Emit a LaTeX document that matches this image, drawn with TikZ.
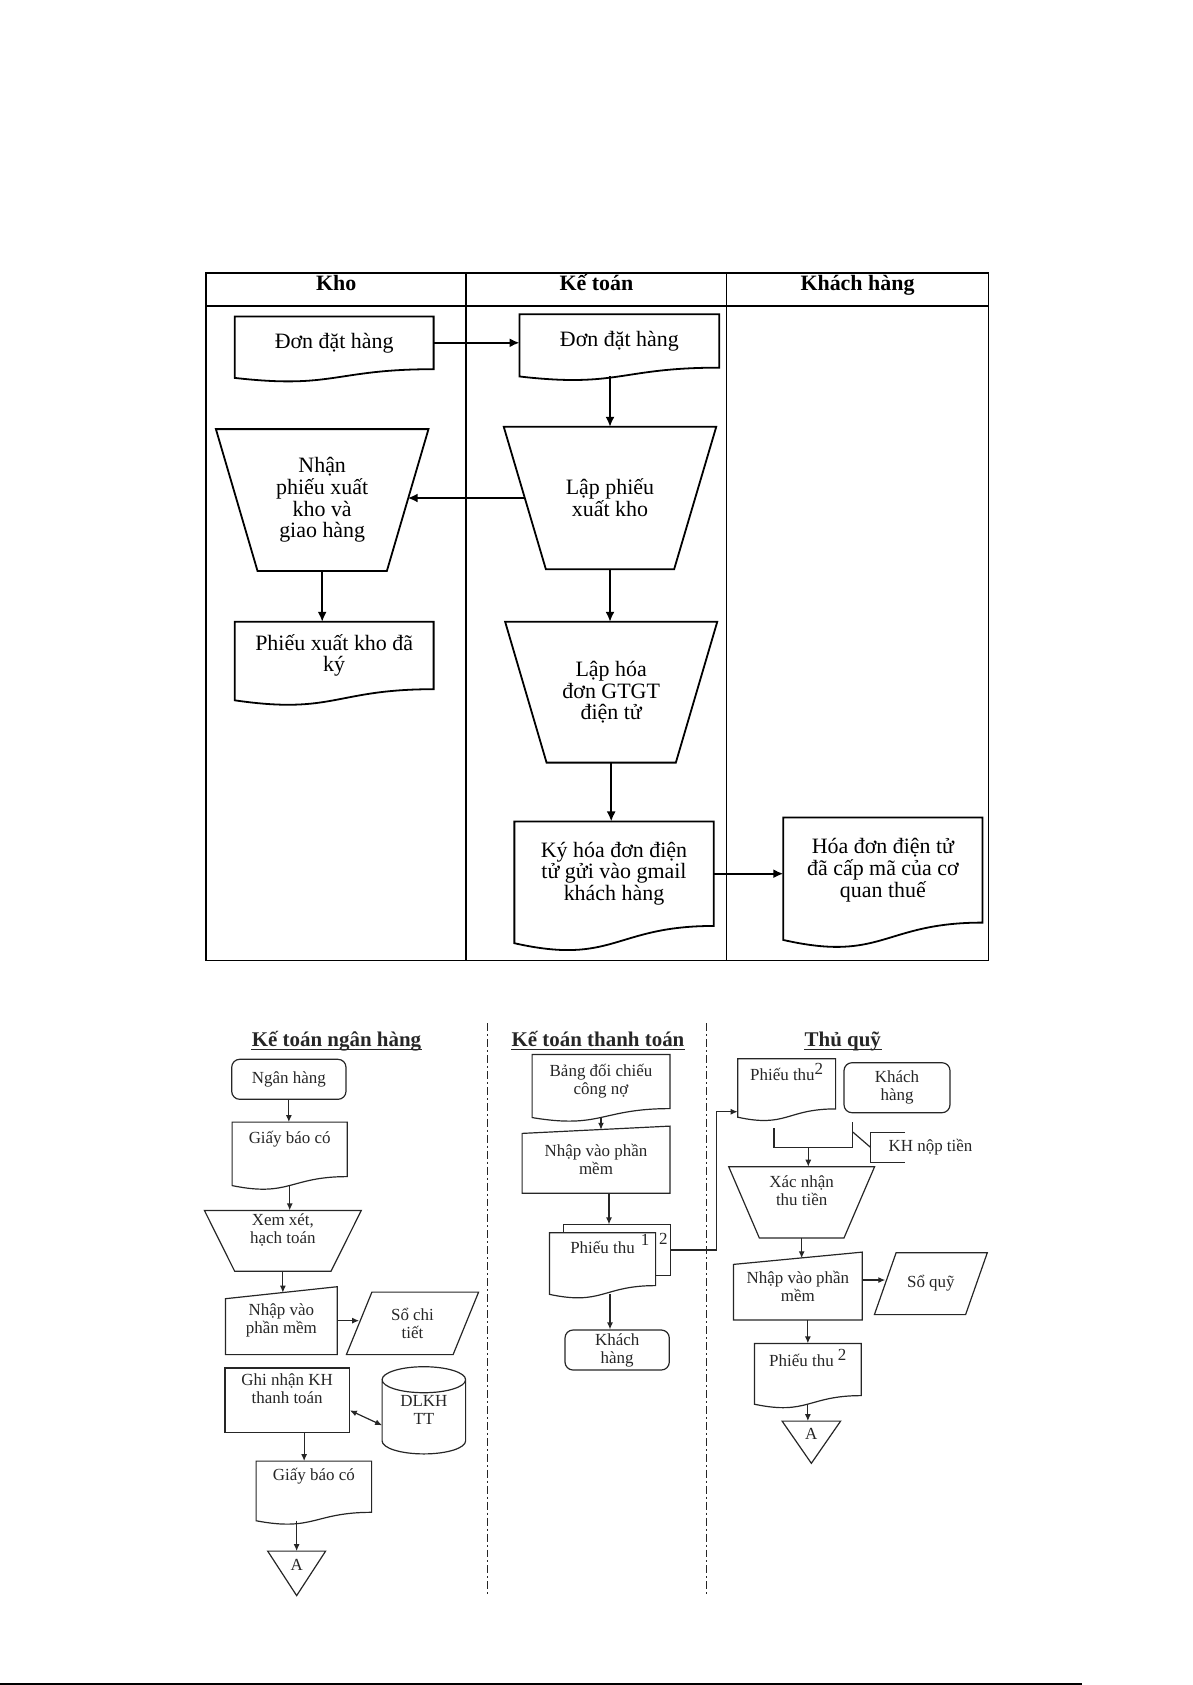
\documentclass[tikz,border=0pt]{standalone}
\usepackage{fontspec}
\setmainfont{Liberation Serif}
\usetikzlibrary{calc,arrows.meta}

\newlength{\px}
\setlength{\px}{0.01762cm}

\newcommand{\topfont}{\fontsize{11}{10.9}\selectfont}
\newcommand{\headfont}{\fontsize{11}{12}\selectfont\bfseries}
\newcommand{\lowfont}{\fontsize{8.5}{9}\selectfont}
\newcommand{\titlefont}{\fontsize{10.5}{12}\selectfont\bfseries}

% outlines drawn round a named node
\newcommand{\docshape}[1]{%
  \draw let \p1=(#1.north west), \p2=(#1.south east) in
    (\p1) -- (\x2,\y1) -- (\p2)
    .. controls ({(\x1+\x2)/2},\y2) and ({(\x1+\x2)/2},{\y2-0.38*(\y1-\y2)}) .. (\x1,{\y2-0.165*(\y1-\y2)})
    -- cycle
    ({(\x1+\x2)/2},{\y2-0.163*(\y1-\y2)}) coordinate (#1-w);}
\newcommand{\trapshape}[2]{%
  \draw (#1.north west) -- (#1.north east) -- ([xshift=-#2*\px]#1.south east)
    -- ([xshift=#2*\px]#1.south west) -- cycle;
  \coordinate (#1-l) at ($(#1.north west)!0.5!([xshift=#2*\px]#1.south west)$);
  \coordinate (#1-r) at ($(#1.north east)!0.5!([xshift=-#2*\px]#1.south east)$);}
\newcommand{\manshape}[2]{%
  \draw (#1.north east) -- (#1.south east) -- (#1.south west)
    -- ([yshift=-#2*\px]#1.north west) -- cycle;
  \coordinate (#1-t) at ($(#1.north east)!0.5!([yshift=-#2*\px]#1.north west)$);}
\newcommand{\parashape}[2]{%
  \draw ([xshift=#2*\px]#1.north west) -- (#1.north east)
    -- ([xshift=-#2*\px]#1.south east) -- (#1.south west) -- cycle;
  \coordinate (#1-l) at ($([xshift=#2*\px]#1.north west)!0.5!(#1.south west)$);}
\newcommand{\cylshape}[2]{%
  \draw let \p1=(#1.north west), \p2=(#1.south east) in
    (\x1,{\y1-#2*\px}) -- (\x1,{\y2+#2*\px})
    arc[start angle=180, end angle=360, x radius={(\x2-\x1)/2}, y radius=#2*\px]
    -- (\x2,{\y1-#2*\px})
    arc[start angle=0, end angle=360, x radius={(\x2-\x1)/2}, y radius=#2*\px];}
\newcommand{\conshape}[1]{%
  \draw (#1.north west) -- (#1.north east) -- (#1.south) -- cycle;}

\begin{document}
\begin{tikzpicture}[
    x=\px, y=-\px,
    box size/.style 2 args={minimum width=#1*\px, minimum height=#2*\px},
    shp/.style={inner sep=0pt, align=center, font=\topfont},
    lshp/.style={inner sep=0pt, align=center, font=\lowfont},
    head/.style={inner sep=0pt, anchor=base, font=\headfont},
    lanetitle/.style={inner sep=0pt, anchor=base, font=\titlefont},
    term/.style={lshp, draw, rounded corners=8*\px},
    proc/.style={lshp, draw},
    raised/.style={text depth=12pt},
    arr/.style={-{Latex[length=5pt,width=4.5pt]}},
    larr/.style={-{Latex[length=3.5pt,width=3pt]}},
    dbl/.style={{Latex[length=3.5pt,width=3pt]}-{Latex[length=3.5pt,width=3pt]}},
    lane sep/.style={dash pattern=on 4pt off 1.5pt on 1pt off 1.5pt}
  ]
  \useasboundingbox (0,0) rectangle (1192,1685);

  % upper chart: swimlanes
  \begin{scope}[line width=0.9pt]
    \draw (206,272.7) rectangle (988.5,960.5);
    \draw (206,305.7) -- (988.5,305.7);
    \draw (466.3,272.7) -- (466.3,960.5);
    \draw (726.5,272.7) -- (726.5,960.5);
    \node[head] (hkho) at (336.2,290.7) {Kho};
    \node[head] (hkt) at (596.4,290.7) {Kế toán};
    \node[head] (hkh) at (857.5,290.7) {Khách hàng};

    \node[shp, box size={197}{51}] (kdon) at (334.2,342.8) {Đơn đặt hàng};
    \node[shp, box size={198}{51.7}] (tdon) at (619.4,340.9) {Đơn đặt hàng};
    \node[shp, box size={210.8}{140}] (knhan) at (322.2,500) {Nhận\\phiếu xuất\\kho và\\giao hàng};
    \node[shp, box size={210.7}{140.6}] (tlap) at (610,498) {Lập phiếu\\xuất kho};
    \node[shp, box size={197}{65.6}] (kpxk) at (334.2,655.5) {Phiếu xuất kho đã\\ký};
    \node[shp, box size={210.3}{139}] (tlhd) at (611.2,692.2) {Lập hóa\\đơn GTGT\\điện tử};
    \node[shp, box size={197.5}{102.7}] (tky) at (614,873.7) {Ký hóa đơn điện\\tử gửi vào gmail\\khách hàng};
    \node[shp, box size={197.4}{103.4}] (khd) at (882.9,870) {Hóa đơn điện tử\\đã cấp mã của cơ\\quan thuế};

    \docshape{kdon} \docshape{tdon} \docshape{kpxk} \docshape{tky} \docshape{khd}
    \trapshape{knhan}{41.6} \trapshape{tlap}{42.1} \trapshape{tlhd}{41.4}

    \draw[arr] (kdon.east) -- (kdon.east -| tdon.west);
    \draw[arr] (tlap.north |- tdon-w) -- (tlap.north);
    \draw[arr] (tlap-l) -- (tlap-l -| knhan-r);
    \draw[arr] (knhan.south) -- (knhan.south |- kpxk.north);
    \draw[arr] (tlap.south) -- (tlap.south |- tlhd.north);
    \draw[arr] (tlhd.south) -- (tlhd.south |- tky.north);
    \draw[arr] (tky.east) -- (tky.east -| khd.west);
  \end{scope}

  % lower chart
  \begin{scope}[line width=0.6pt, black!85]
    \draw[lane sep] (487.3,1023) -- (487.3,1597);
    \draw[lane sep] (706.3,1023) -- (706.3,1597);
    \node[lanetitle] (tnh) at (336.5,1046) {Kế toán ngân hàng};
    \node[lanetitle] (ttt) at (598,1046) {Kế toán thanh toán};
    \node[lanetitle] (ttq) at (842.8,1046) {Thủ quỹ};
    \foreach \ttl in {tnh,ttt,ttq}
      \draw ([yshift=-1.6pt]\ttl.base west) -- ([yshift=-1.6pt]\ttl.base east);

    % Ke toan ngan hang
    \node[term, box size={114.3}{40}] (ngan) at (288.85,1079.3) {Ngân hàng};
    \node[lshp, raised, box size={114}{53.3}] (gbc1) at (289.7,1149.35) {Giấy báo có};
    \node[lshp, raised, box size={155.7}{59.7}] (xem) at (282.85,1240.85) {Xem xét,\\hạch toán};
    \node[lshp, box size={110.7}{66.7}] (nhap1) at (281.35,1320.65) {Nhập vào\\phần mềm};
    \node[lshp, box size={131}{61.3}] (so1) at (412.5,1323.35) {Sổ chi\\tiết};
    \node[proc, raised, box size={124.3}{64.7}] (ghinhan) at (287.15,1400.35) {Ghi nhận KH\\thanh toán};
    \node[lshp, box size={82.3}{86}] (dlkh) at (423.85,1410.3) {DLKH\\TT};
    \node[lshp, raised, box size={114.3}{50}] (gbc2) at (313.85,1486.7) {Giấy báo có};
    \node[lshp, text depth=8pt, box size={56.7}{43.3}] (a1) at (296.65,1573.35) {A};

    \docshape{gbc1} \docshape{gbc2}
    \trapshape{xem}{30.3}
    \manshape{nhap1}{12}
    \parashape{so1}{25.5}
    \cylshape{dlkh}{13}
    \conshape{a1}

    \draw[larr] (ngan.south) -- (ngan.south |- gbc1.north);
    \draw[larr] (gbc1-w) -- (gbc1-w |- xem.north);
    \draw[larr] (xem.south) -- (xem.south |- nhap1-t);
    \draw[larr] (nhap1.east) -- (nhap1.east -| so1-l);
    \draw[dbl] ([yshift=-10*\px]ghinhan.east) -- ([yshift=-15*\px]dlkh.west);
    \draw[larr] ([xshift=17*\px]ghinhan.south) -- ([xshift=17*\px]ghinhan.south |- gbc2.north);
    \draw[larr] (a1.north |- gbc2-w) -- (a1.north);

    % Ke toan thanh toan
    \node[lshp, box size={136.6}{53}] (bang) at (601,1081.5) {Bảng đối chiếu\\công nợ};
    \node[lshp, box size={146.6}{66}] (nhap2) at (596,1159.7) {Nhập vào phần\\mềm};
    \node[lshp, box size={106}{50}] (ptb) at (617,1250) {};
    \node[lshp, raised, box size={105}{51.7}] (ptf) at (602.5,1259.15) {Phiếu thu};
    \node[lshp] (ptf-n) at (645,1240) {1};
    \node[lshp] (ptb-n) at (663.3,1239) {2};
    \node[term, box size={104.3}{40}] (kh2) at (617.15,1350) {Khách\\hàng};

    \docshape{bang}
    \manshape{nhap2}{7.3}
    \draw (ptb.north west |- ptf.north) -- (ptb.north west) -- (ptb.north east)
      -- (ptb.south east) -- (ptb.south east -| ptf.east);
    \docshape{ptf}

    \draw[larr] (bang-w) -- (bang-w |- nhap2-t);
    \draw[larr] ([xshift=13*\px]nhap2.south) -- ([xshift=13*\px]nhap2.south |- ptb.north);
    \draw[larr] ([xshift=7.5*\px]ptf-w) -- ([xshift=7.5*\px]ptf-w |- kh2.north);

    % Thu quy
    \node[lshp, raised, box size={96.7}{49}] (pt2) at (786.65,1083.8) {Phiếu thu\raisebox{3pt}{2}};
    \node[term, box size={106}{50}] (kh3) at (897,1087.7) {Khách\\hàng};
    \node[lshp, anchor=west, inner xsep=17.3*\px, box size={0}{28.4}] (khnop) at (870.7,1147.5) {KH nộp tiền};
    \node[lshp, raised, box size={144.7}{70}] (xnhan) at (801.65,1202.3) {Xác nhận\\thu tiền};
    \node[lshp, box size={127.7}{66.6}] (nhap3) at (797.85,1286) {Nhập vào phần\\mềm};
    \node[lshp, box size={111.7}{60.7}] (soquy) at (930.85,1283.65) {Sổ quỹ};
    \node[lshp, raised, box size={105.7}{51}] (pt3) at (807.85,1369.5) {Phiếu thu \raisebox{3pt}{2}};
    \node[lshp, text depth=8pt, box size={57.3}{41}] (a2) at (811.35,1442.2) {A};

    \docshape{pt2} \docshape{pt3}
    \trapshape{xnhan}{30.6}
    \manshape{nhap3}{12.3}
    \parashape{soquy}{21.7}
    \conshape{a2}
    \draw ([xshift=34.3*\px]khnop.north west) -- (khnop.north west)
      -- (khnop.south west) -- ([xshift=34.3*\px]khnop.south west);

    \coordinate (turn) at (716.7,1111.7);
    \draw[larr] (ptb.east) -| (turn) -- (turn -| pt2.west);

    \coordinate (jl) at (774,1128.3);
    \coordinate (jr) at (852.7,1121.7);
    \coordinate (jm) at (808.3,1147.3);
    \draw (jl) |- (jm) -| (jr);
    \draw[larr] (jm) -- (jm |- xnhan.north);
    \draw ($(jr)!0.4!(jr |- jm)$) -- (khnop.west);

    \draw[larr] (xnhan.south) -- (xnhan.south |- nhap3-t);
    \draw[larr] ([yshift=6*\px]nhap3.east) -- ([yshift=6*\px]nhap3.east -| soquy-l);
    \draw[larr] (pt3.north |- nhap3.south) -- (pt3.north);
    \draw[larr] (pt3-w) -- (pt3-w |- a2.north);
  \end{scope}

  \draw[line width=1pt] (0,1684) -- (1082,1684);
\end{tikzpicture}
\end{document}
